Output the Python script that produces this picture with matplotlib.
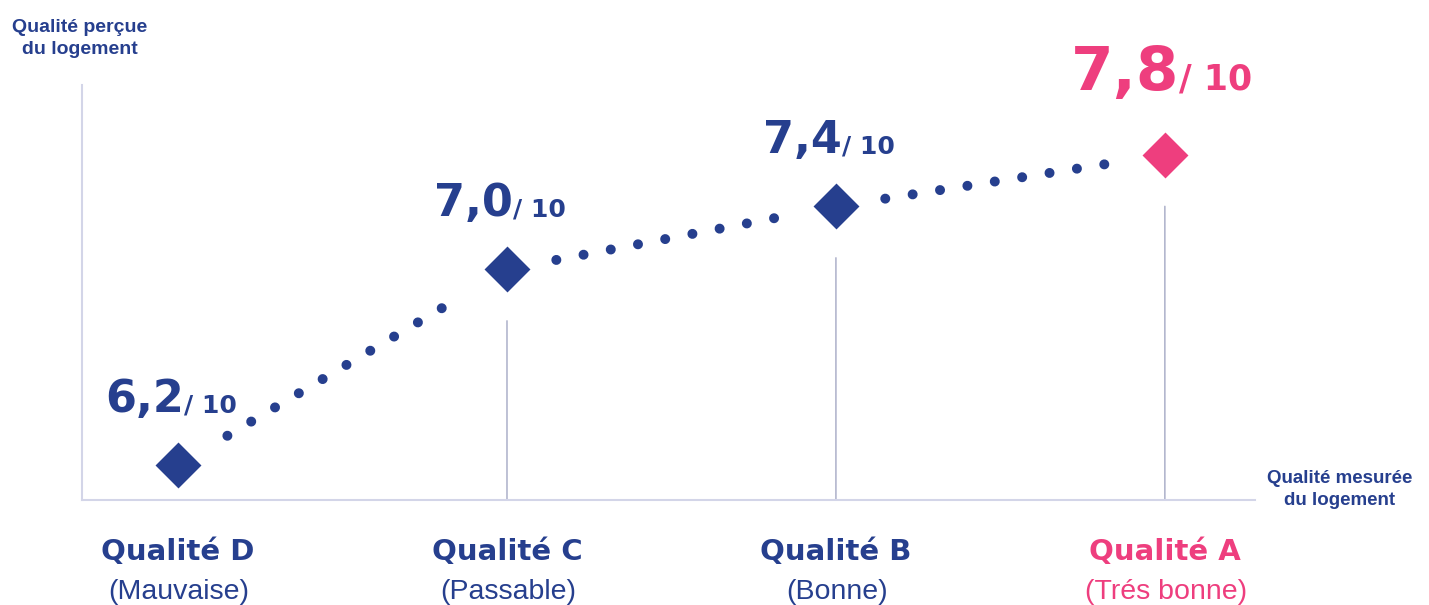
import numpy as np
from matplotlib import pyplot as plt

# data
categories = ["Qualité D", "Qualité C", "Qualité B", "Qualité A"]
sub_labels = ["(Mauvaise)", "(Passable)", "(Bonne)", "(Trés bonne)"]
scores = [6.2, 7.0, 7.4, 7.8]
score_text = ["6,2", "7,0", "7,4", "7,8"]

NAVY = "#263F8E"
PINK = "#EE3E7E"
colors = [NAVY, NAVY, NAVY, PINK]

HEAVY = "DejaVu Sans"
PLAIN = "Liberation Sans"

# compressive vertical scale like the original infographic
def fwd(v):
    return np.log(np.clip(np.asarray(v, dtype=float) - 5.4, 1e-6, None))

def inv(u):
    return np.exp(u) + 5.4

fig = plt.figure(figsize=(14.29, 6.05), dpi=100)
ax = fig.add_axes([82 / 1429, 105 / 605, 1173 / 1429, 415 / 605])
ax.set_yscale("function", functions=(fwd, inv))
ax.set_xlim(-0.292, 3.274)
ax.set_ylim(6.107, 8.474)

x = np.arange(len(scores))

# dotted connectors, trimmed near the markers
for i in range(len(scores) - 1):
    t = np.array([0.15, 0.85])
    xs = x[i] + t * (x[i + 1] - x[i])
    u1, u2 = fwd(scores[i]), fwd(scores[i + 1])
    ys = inv(u1 + t * (u2 - u1))
    ax.plot(xs, ys, color=NAVY, lw=7.2, ls=(0, (0.001, 2.77)),
            dash_capstyle="round", solid_capstyle="round", zorder=2)

# thin vertical guides below the markers
for i in range(1, len(scores)):
    ax.annotate("", xy=(x[i], 6.107), xytext=(x[i], scores[i]),
                arrowprops=dict(arrowstyle="-", color="#A4A8C4", lw=1,
                                shrinkA=37, shrinkB=0), zorder=1)

# markers
for i in range(len(scores)):
    ax.plot(x[i], scores[i], marker="D", ms=21.5, color=colors[i],
            mec=colors[i], mew=2, ls="none", zorder=3)

# value labels
for i in range(len(scores)):
    big = 44 if i == 3 else 32
    small = 25 if i == 3 else 18
    dx = 14 if i == 3 else 6
    dy = 65 if i == 3 else 53
    ax.annotate(score_text[i], xy=(x[i], scores[i]), xytext=(dx, dy),
                textcoords="offset pixels", ha="right", va="baseline",
                fontsize=big, fontweight="bold", family=HEAVY,
                color=colors[i], annotation_clip=False)
    ax.annotate("/ 10", xy=(x[i], scores[i]), xytext=(dx, dy),
                textcoords="offset pixels", ha="left", va="baseline",
                fontsize=small, fontweight="bold", family=HEAVY,
                color=colors[i], annotation_clip=False)

# axes look
for s in ["top", "right"]:
    ax.spines[s].set_visible(False)
for s in ["left", "bottom"]:
    ax.spines[s].set_color("#D3D5E8")
    ax.spines[s].set_linewidth(1.5)
ax.set_yticks([])
ax.minorticks_off()
ax.set_xticks(x)
ax.set_xticklabels(categories, fontsize=21, fontweight="bold", family=HEAVY)
ax.tick_params(axis="x", length=0, pad=27)
for lbl, c in zip(ax.get_xticklabels(), colors):
    lbl.set_color(c)

for i in range(len(scores)):
    ax.annotate(sub_labels[i], xy=(x[i], 0), xycoords=("data", "axes fraction"),
                xytext=(1, -99), textcoords="offset pixels", ha="center",
                va="baseline", fontsize=20.5, family=PLAIN, color=colors[i],
                annotation_clip=False)

fig.text(80 / 1429, 1 - 19 / 605, "Qualité perçue\ndu logement", ha="center",
         va="top", fontsize=14, fontweight="bold", family=PLAIN,
         color=NAVY, linespacing=1.4)
fig.text(1340 / 1429, 1 - 470 / 605, "Qualité mesurée\ndu logement", ha="center",
         va="top", fontsize=13.5, fontweight="bold", family=PLAIN,
         color=NAVY, linespacing=1.4)

fig.savefig("out.png", dpi=100)
